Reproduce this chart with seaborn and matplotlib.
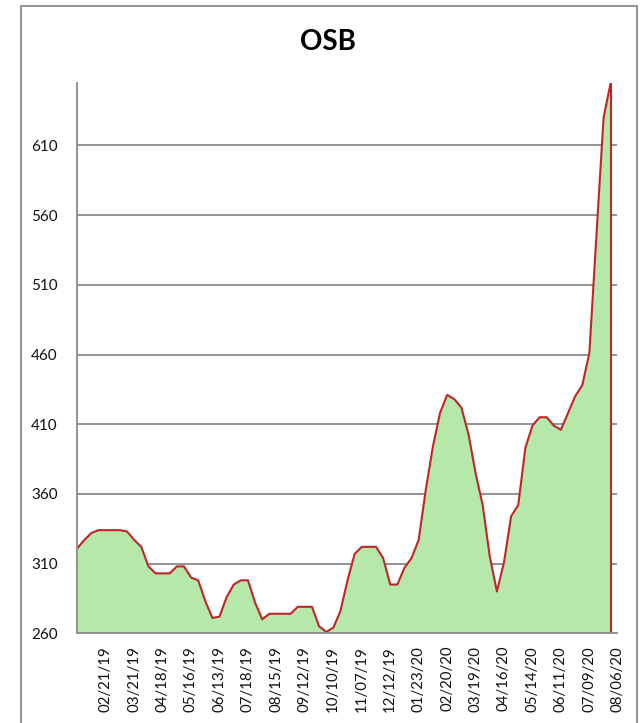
import matplotlib
matplotlib.use("Agg")
import matplotlib.pyplot as plt
from matplotlib.patches import Rectangle
import seaborn as sns
import pandas as pd

dates = [
    "01/31/19", "02/07/19", "02/14/19", "02/21/19", "02/28/19", "03/07/19", "03/14/19", "03/21/19",
    "03/28/19", "04/04/19", "04/11/19", "04/18/19", "04/25/19", "05/02/19", "05/09/19", "05/16/19",
    "05/23/19", "05/30/19", "06/06/19", "06/13/19", "06/20/19", "06/27/19", "07/11/19", "07/18/19",
    "07/25/19", "08/01/19", "08/08/19", "08/15/19", "08/22/19", "08/29/19", "09/05/19", "09/12/19",
    "09/19/19", "09/26/19", "10/03/19", "10/10/19", "10/17/19", "10/24/19", "10/31/19", "11/07/19",
    "11/14/19", "11/21/19", "12/05/19", "12/12/19", "12/19/19", "01/09/20", "01/16/20", "01/23/20",
    "01/30/20", "02/06/20", "02/13/20", "02/20/20", "02/27/20", "03/05/20", "03/12/20", "03/19/20",
    "03/26/20", "04/02/20", "04/09/20", "04/16/20", "04/23/20", "04/30/20", "05/07/20", "05/14/20",
    "05/21/20", "05/28/20", "06/04/20", "06/11/20", "06/18/20", "06/25/20", "07/02/20", "07/09/20",
    "07/16/20", "07/23/20", "07/30/20", "08/06/20",
]
prices = [
    321, 327, 332, 334, 334, 334, 334, 333,
    327, 322, 308, 303, 303, 303, 308, 308,
    300, 298, 283, 271, 272, 286, 295, 298,
    298, 282, 270, 274, 274, 274, 274, 279,
    279, 279, 265, 261, 264, 276, 298, 317,
    322, 322, 322, 314, 295, 295, 307, 314,
    327, 363, 394, 418, 431, 428, 422, 403,
    375, 352, 315, 290, 311, 344, 352, 393,
    409, 415, 415, 409, 406, 418, 430, 438,
    461, 546, 630, 655,
]
tick_labels = [
    "02/21/19", "03/21/19", "04/18/19", "05/16/19", "06/13/19", "07/18/19", "08/15/19",
    "09/12/19", "10/10/19", "11/07/19", "12/12/19", "01/23/20", "02/20/20", "03/19/20",
    "04/16/20", "05/14/20", "06/11/20", "07/09/20", "08/06/20",
]
title = "OSB"
y_ticks = [260, 310, 360, 410, 460, 510, 560, 610]

df = pd.DataFrame({"date": dates, "price": prices})
df["idx"] = range(len(df))

sns.set_theme(style="white")
plt.rcParams["font.family"] = ["Lato", "DejaVu Sans"]

W, H = 641, 723
fig = plt.figure(figsize=(W / 100, H / 100), dpi=100)
fig.patch.set_facecolor("white")

left, right, top, bottom = 77.3, 617.0, 82.7, 633.3
ax = fig.add_axes([left / W, 1 - bottom / H, (right - left) / W, (bottom - top) / H])
ax.set_facecolor("white")

green = "#b5e8a9"
red = "#c0252a"
grey = "#8a8a8a"

ymin = y_ticks[0]
ymax = max(prices)
ax.fill_between(df["idx"], df["price"], ymin, color=green, linewidth=0, zorder=2)
sns.lineplot(data=df, x="idx", y="price", ax=ax, color=red, linewidth=1.5, zorder=3)
last = df.iloc[-1]
ax.vlines(last["idx"], ymin, last["price"], color=red, linewidth=1.5, zorder=3)

spacing = (610.7 - left) / (len(df) - 1)
ax.set_xlim(0, (right - left) / spacing)
ax.set_ylim(ymin, ymax)

ax.set_yticks(y_ticks)
ax.set_yticklabels([str(v) for v in y_ticks], fontsize=11, color="#111111")
for v in y_ticks[1:]:
    ax.axhline(v, color=grey, linewidth=1.3, zorder=1)

pos = [df.index[df["date"] == d][0] for d in tick_labels]
ax.set_xticks(pos)
ax.set_xticklabels(tick_labels, rotation=90, fontsize=10.8, color="#111111",
                   va="top", ha="left")

ax.tick_params(axis="x", length=0, pad=9)
ax.tick_params(axis="y", length=0, pad=14)
ax.set_xlabel("")
ax.set_ylabel("")

for s in ["top", "right"]:
    ax.spines[s].set_visible(False)
for s in ["left", "bottom"]:
    ax.spines[s].set_color(grey)
    ax.spines[s].set_linewidth(1.3)
    ax.spines[s].set_zorder(4)

fig.text(328 / W, 1 - 42 / H, title, ha="center", va="center",
         fontsize=20, fontweight="bold", color="black")

border = Rectangle((21 / W, -0.02), (636.7 - 21) / W, 1.02 - 6 / H,
                   transform=fig.transFigure, fill=False, edgecolor=grey, linewidth=1.3)
fig.patches.append(border)

fig.savefig("out.png", dpi=100)
